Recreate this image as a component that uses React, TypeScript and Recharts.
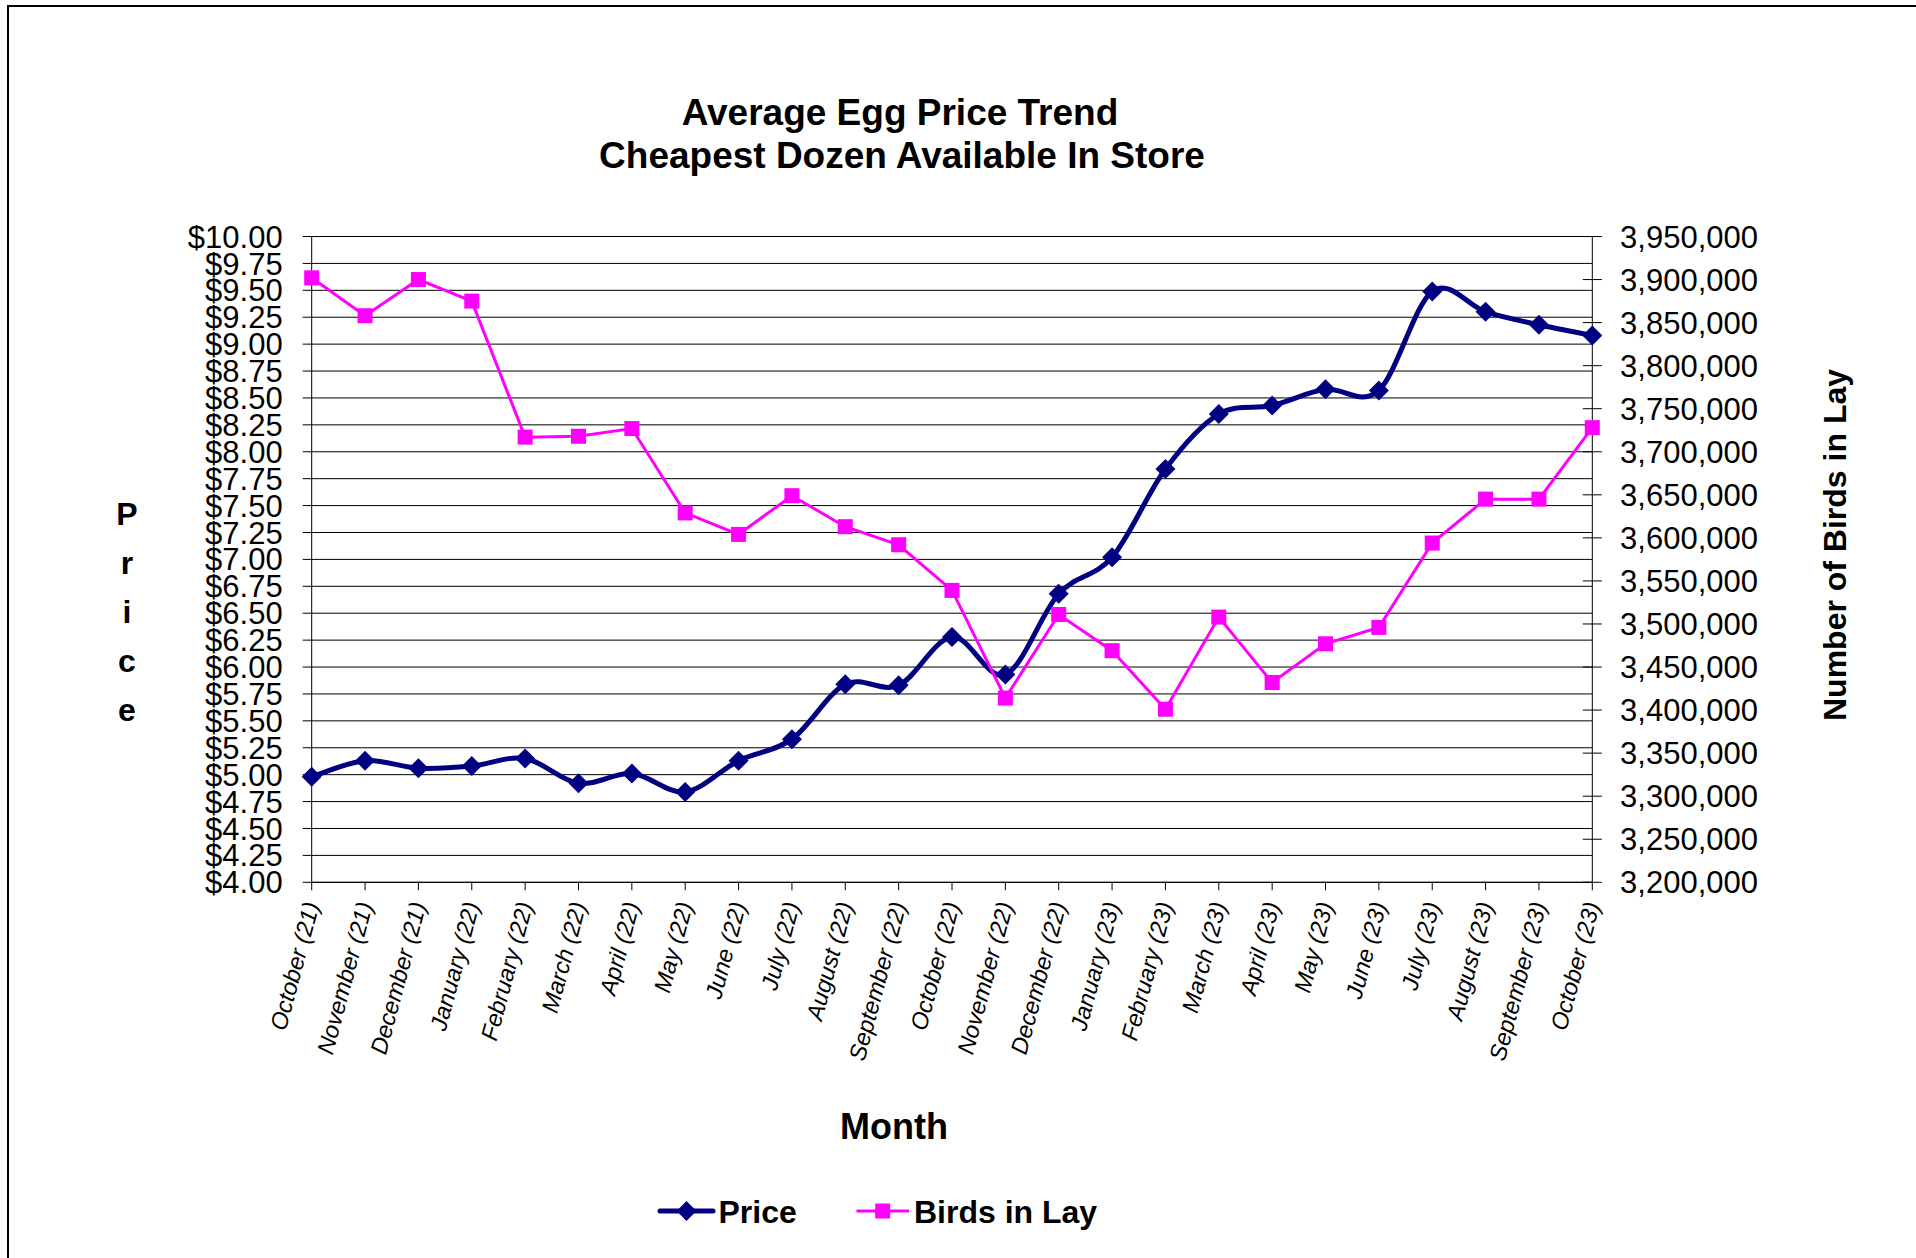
import React from "react";
import { LineChart, Line, XAxis, YAxis, CartesianGrid } from "recharts";

const months = [
  "October (21)", "November (21)", "December (21)", "January (22)", "February (22)",
  "March (22)", "April (22)", "May (22)", "June (22)", "July (22)", "August (22)",
  "September (22)", "October (22)", "November (22)", "December (22)", "January (23)",
  "February (23)", "March (23)", "April (23)", "May (23)", "June (23)", "July (23)",
  "August (23)", "September (23)", "October (23)",
];

const price = [
  4.98, 5.13, 5.06, 5.08, 5.15, 4.92, 5.01, 4.84, 5.13, 5.33, 5.84, 5.83, 6.28,
  5.93, 6.68, 7.02, 7.84, 8.35, 8.43, 8.58, 8.57, 9.49, 9.3, 9.18, 9.08,
];

const birdsInLay = [
  3902000, 3858000, 3900000, 3875000, 3717000, 3718000, 3727000, 3629000, 3604000,
  3649000, 3613000, 3592000, 3539000, 3414000, 3511000, 3469000, 3401000, 3508000,
  3432000, 3477000, 3496000, 3594000, 3645000, 3645000, 3728000,
];

const priceTicks = [
  4, 4.25, 4.5, 4.75, 5, 5.25, 5.5, 5.75, 6, 6.25, 6.5, 6.75, 7, 7.25, 7.5, 7.75,
  8, 8.25, 8.5, 8.75, 9, 9.25, 9.5, 9.75, 10,
];

const birdTicks = [
  3200000, 3250000, 3300000, 3350000, 3400000, 3450000, 3500000, 3550000,
  3600000, 3650000, 3700000, 3750000, 3800000, 3850000, 3900000, 3950000,
];

const FONT = '"Liberation Sans", Arial, Helvetica, sans-serif';
const NAVY = "#000080";
const PINK = "#FF00FF";

// plot box (page px)
const PLOT_L = 311.7;
const PLOT_R = 1592.3;
const PLOT_T = 236.5;
const PLOT_B = 882.3;
const LEFT_W = 120;
const RIGHT_W = 200;
const X_H = 120;

const data = months.map((m, i) => ({ month: m, price: price[i], birds: birdsInLay[i] }));

// Excel-like smoothed line (bezier with 1/6 neighbour tangents)
function excelCurve(context: any) {
  let pts: number[][] = [];
  return {
    areaStart() {},
    areaEnd() {},
    lineStart() {
      pts = [];
    },
    lineEnd() {
      if (!pts.length) return;
      context.moveTo(pts[0][0], pts[0][1]);
      for (let i = 0; i < pts.length - 1; i++) {
        const p0 = pts[Math.max(i - 1, 0)];
        const p1 = pts[i];
        const p2 = pts[i + 1];
        const p3 = pts[Math.min(i + 2, pts.length - 1)];
        context.bezierCurveTo(
          p1[0] + (p2[0] - p0[0]) / 6,
          p1[1] + (p2[1] - p0[1]) / 6,
          p2[0] - (p3[0] - p1[0]) / 6,
          p2[1] - (p3[1] - p1[1]) / 6,
          p2[0],
          p2[1]
        );
      }
    },
    point(x: number, y: number) {
      pts.push([+x, +y]);
    },
  };
}

const fmtBirds = (v: number) => String(v).replace(/\B(?=(\d{3})+(?!\d))/g, ",");

const Diamond = (props: any) => {
  const { cx, cy } = props;
  if (cx == null || cy == null) return null;
  return <path d={`M${cx},${cy - 10}L${cx + 10},${cy}L${cx},${cy + 10}L${cx - 10},${cy}Z`} fill={NAVY} />;
};

const Square = (props: any) => {
  const { cx, cy } = props;
  if (cx == null || cy == null) return null;
  return <rect x={cx - 7.5} y={cy - 7.5} width={15} height={15} fill={PINK} />;
};

const PriceTick = ({ x, y, payload }: any) => (
  <text x={x} y={y} dy="0.358em" textAnchor="end" fontSize={31} fontFamily={FONT} fill="#000">
    ${Number(payload.value).toFixed(2)}
  </text>
);

const BirdTick = ({ x, y, payload }: any) => (
  <g>
    <line x1={x - 18.3 - 19} x2={x - 18.3} y1={y} y2={y} stroke="#000" strokeWidth={1} />
    <text x={x} y={y} dy="0.358em" textAnchor="start" fontSize={31} fontFamily={FONT} fill="#000">
      {fmtBirds(payload.value)}
    </text>
  </g>
);

const MonthTick = ({ x, y, payload }: any) => (
  <text
    x={x}
    y={y}
    dy="0.35em"
    textAnchor="end"
    transform={`rotate(-75 ${x} ${y})`}
    fontSize={23.5}
    fontStyle="italic"
    fontFamily={FONT}
    fill="#000"
  >
    {payload.value}
  </text>
);

const priceLetters = ["P", "r", "i", "c", "e"];

export default function App() {
  return (
    <div style={{ position: "absolute", left: 0, top: 0, width: 1916, height: 1258, overflow: "hidden", background: "#fff" }}>
      <div style={{ position: "absolute", left: 7, top: 5, width: 1930, height: 1280, border: "2px solid #000" }} />
      <div style={{ position: "absolute", left: 0, top: 0 }}>
        <LineChart
          width={1916}
          height={1258}
          data={data}
          margin={{
            top: PLOT_T,
            left: PLOT_L - LEFT_W,
            right: 1916 - PLOT_R - RIGHT_W,
            bottom: 1258 - PLOT_B - X_H,
          }}
        >
          <CartesianGrid yAxisId="price" vertical={false} stroke="#000" strokeWidth={1} />
          <XAxis
            dataKey="month"
            interval={0}
            height={X_H}
            tickSize={8}
            tickMargin={12}
            axisLine={{ stroke: "#000", strokeWidth: 1 }}
            tickLine={{ stroke: "#000" }}
            tick={<MonthTick />}
          />
          <YAxis
            yAxisId="price"
            width={LEFT_W}
            domain={[4, 10]}
            ticks={priceTicks}
            interval={0}
            tickSize={9}
            tickMargin={20}
            axisLine={{ stroke: "#000", strokeWidth: 1 }}
            tickLine={{ stroke: "#000" }}
            tick={<PriceTick />}
          />
          <YAxis
            yAxisId="birds"
            orientation="right"
            width={RIGHT_W}
            domain={[3200000, 3950000]}
            ticks={birdTicks}
            interval={0}
            tickSize={9.5}
            tickMargin={18.3}
            axisLine={{ stroke: "#000", strokeWidth: 1 }}
            tickLine={false}
            tick={<BirdTick />}
          />
          <Line
            yAxisId="price"
            dataKey="price"
            type={excelCurve as any}
            stroke={NAVY}
            strokeWidth={5}
            dot={<Diamond />}
            activeDot={false}
            isAnimationActive={false}
          />
          <Line
            yAxisId="birds"
            dataKey="birds"
            type="linear"
            stroke={PINK}
            strokeWidth={3}
            dot={<Square />}
            activeDot={false}
            isAnimationActive={false}
          />
        </LineChart>
      </div>
      <svg
        width={1916}
        height={1258}
        style={{ position: "absolute", left: 0, top: 0, pointerEvents: "none" }}
        fontFamily={FONT}
        fontWeight="bold"
      >
        <text x={900} y={125} textAnchor="middle" fontSize={37}>Average Egg Price Trend</text>
        <text x={902} y={168} textAnchor="middle" fontSize={37}>Cheapest Dozen Available In Store</text>
        {priceLetters.map((ch, i) => (
          <text key={i} x={127} y={525 + i * 49} textAnchor="middle" fontSize={32}>{ch}</text>
        ))}
        <text x={0} y={0} transform="translate(1846 545) rotate(-90)" textAnchor="middle" fontSize={32}>
          Number of Birds in Lay
        </text>
        <text x={894} y={1139} textAnchor="middle" fontSize={36}>Month</text>
        <line x1={660} x2={713} y1={1211} y2={1211} stroke={NAVY} strokeWidth={5} strokeLinecap="round" />
        <path d="M686.5,1201L696.5,1211L686.5,1221L676.5,1211Z" fill={NAVY} />
        <text x={718.5} y={1222.5} fontSize={32}>Price</text>
        <line x1={856.5} x2={909} y1={1211} y2={1211} stroke={PINK} strokeWidth={3} />
        <rect x={875.2} y={1203.5} width={15} height={15} fill={PINK} />
        <text x={914} y={1222.5} fontSize={32}>Birds in Lay</text>
      </svg>
    </div>
  );
}
